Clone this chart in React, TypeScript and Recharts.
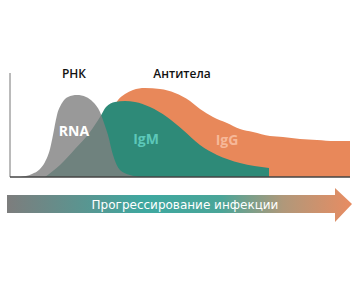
import React from 'react'
import { ComposedChart, Area, XAxis, YAxis, ReferenceLine } from 'recharts'

// x = horizontal position along infection course, y = level
const rnaX = [10, 22, 30, 35, 40, 43, 47, 52, 58, 67, 76, 83, 90, 94, 98, 103, 110, 120, 130]
const rnaY = [0, 3, 8, 15, 28, 42, 62, 74, 80, 82, 80, 75, 65, 54, 42, 22, 7, 2, 0]

const igmX = [35, 50, 65, 80, 90, 96, 105, 115, 125, 140, 157, 173, 190, 207, 230, 259]
const igmY = [0, 12, 28, 45, 60, 70, 75, 76, 75, 70, 60, 47, 32, 22, 14, 9]

const iggX = [90, 100, 108, 115, 123, 135, 150, 165, 180, 190, 203, 217, 230, 243, 260, 273, 290, 307, 325, 340]
const iggY = [40, 62, 77, 83, 87, 89, 88, 84, 76, 68, 60, 54, 48, 45, 41, 40, 38, 37, 36, 36]

const toRows = (xs: number[], ys: number[]) => xs.map((x, i) => ({ x, v: ys[i] }))

const rnaData = toRows(rnaX, rnaY)
const igmData = toRows(igmX, igmY)
const iggData = toRows(iggX, iggY)

const COLORS = {
  rna: '#7f7f7f',
  igm: '#2e8a78',
  igg: '#e8885a',
}

export default function App() {
  return (
    <div style={{ position: 'fixed', left: 0, top: 0, width: 360, height: 288, background: '#fff' }}>
      <ComposedChart
        width={360}
        height={288}
        margin={{ top: 73, right: 10, bottom: 111, left: 10 }}
      >
        <XAxis
          type="number"
          dataKey="x"
          domain={[0, 340]}
          allowDataOverflow
          hide
        />
        <YAxis
          type="number"
          domain={[0, 104]}
          allowDataOverflow
          hide
        />
        <Area
          data={iggData}
          dataKey="v"
          type="monotone"
          stroke="none"
          fill={COLORS.igg}
          fillOpacity={1}
          isAnimationActive={false}
        />
        <Area
          data={igmData}
          dataKey="v"
          type="monotone"
          stroke="none"
          fill={COLORS.igm}
          fillOpacity={1}
          isAnimationActive={false}
        />
        <Area
          data={rnaData}
          dataKey="v"
          type="monotone"
          stroke="none"
          fill={COLORS.rna}
          fillOpacity={0.8}
          isAnimationActive={false}
        />
        <ReferenceLine x={0} stroke="#777" strokeWidth={1} />
        <ReferenceLine y={0} stroke="#444" strokeWidth={1.5} />
      </ComposedChart>
      <svg
        width={360}
        height={288}
        style={{ position: 'absolute', left: 0, top: 0, pointerEvents: 'none' }}
      >
        <defs>
          <linearGradient id="arrowGrad" x1="0" y1="0" x2="1" y2="0">
            <stop offset="0%" stopColor="#7d7d7d" />
            <stop offset="40%" stopColor="#3ea8a0" />
            <stop offset="62%" stopColor="#4aa598" />
            <stop offset="80%" stopColor="#b0987a" />
            <stop offset="100%" stopColor="#e88c62" />
          </linearGradient>
        </defs>
        <g fontFamily="'Open Sans', sans-serif" fontWeight={700} textAnchor="middle">
          <text x={74} y={78} fontSize={12} fill="#111" fontWeight={600}>РНК</text>
          <text x={182} y={78} fontSize={12} fill="#111" fontWeight={600}>Антитела</text>
          <text x={74} y={136} fontSize={14} fill="#fff">RNA</text>
          <text x={146} y={144} fontSize={14} fill="#5cc8b9">IgM</text>
          <text x={227} y={145} fontSize={14} fill="#f6b899">IgG</text>
        </g>
        <path
          d="M7 195 L335 195 L335 188 L352 204 L335 222 L335 213 L7 213 Z"
          fill="url(#arrowGrad)"
        />
        <text
          x={185}
          y={209}
          fontSize={12}
          fill="#fff"
          textAnchor="middle"
          fontFamily="'DejaVu Sans', sans-serif"
        >
          Прогрессирование инфекции
        </text>
      </svg>
    </div>
  )
}
